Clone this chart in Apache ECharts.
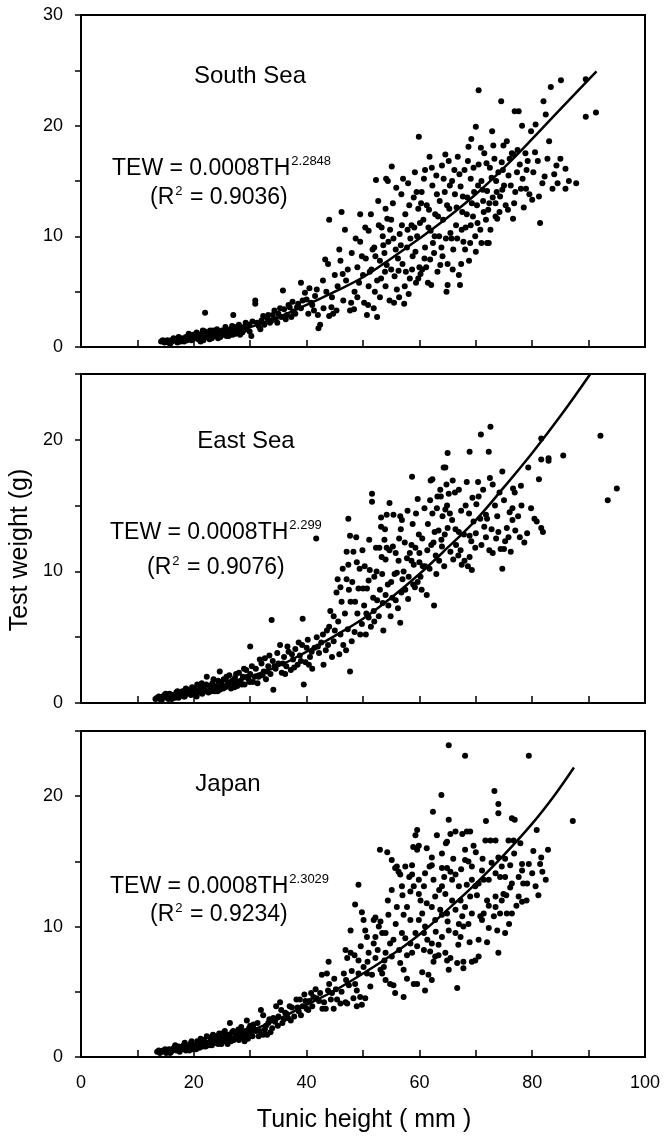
<!DOCTYPE html>
<html><head><meta charset="utf-8">
<script src="https://cdn.jsdelivr.net/npm/echarts@6/dist/echarts.min.js"></script>
<style>html,body{margin:0;padding:0;background:#fff}#c{width:664px;height:1137px}</style>
</head><body><div id="c"></div>
<script>
// ---------- DATA ----------
const panelNames = ['South Sea', 'East Sea', 'Japan'];
const equationExponents = ['2.2848', '2.299', '2.3029'];
const r2Values = ['0.9036', '0.9076', '0.9234'];
const xTicks = [0, 20, 40, 60, 80, 100];
const panelYMax = [30, 25, 25];

const southPoints = [
[14.2,0.5],[14.8,0.4],[15.3,0.6],[15.8,0.3],[16.0,0.6],[16.2,0.5],[16.7,0.7],[17.1,0.4],[17.5,0.6],[17.9,0.8],[18.0,0.6],[18.3,0.5],[18.6,0.9],[19.0,0.7],[19.3,1.0],[19.6,0.6],[19.9,1.1],[20.0,0.9],[20.2,0.8],[20.5,1.3],[20.8,0.7],[21.0,0.8],[21.1,1.0],[21.4,1.2],[21.7,0.6],[22.0,1.4],[22.0,3.1],[22.3,0.9],[22.6,1.1],[22.9,1.5],[23.0,1.0],[23.2,0.8],[23.5,1.2],[23.8,1.0],[24.1,1.6],[24.4,1.3],[24.5,1.1],[24.7,0.9],[25.0,1.5],[25.3,1.1],[25.6,1.8],[25.9,1.3],[26.0,1.5],[26.2,1.0],[26.5,1.6],[26.8,1.9],[27.0,2.9],[27.1,1.4],[27.4,1.2],[27.7,1.7],[28.0,2.0],[28.3,1.5],[28.5,1.7],[28.6,1.3],[28.9,1.8],[29.2,2.2],[29.5,1.6],[29.8,2.0],[30.2,1.0],
[14.5,0.6],[15.0,0.5],[15.5,0.4],[16.4,0.8],[17.3,0.9],[17.7,0.5],[18.8,0.6],[19.1,1.2],[19.7,0.9],[20.4,1.0],[21.2,0.5],[21.6,1.5],[22.4,1.2],[22.8,0.7],[23.4,1.5],[23.9,1.4],[24.3,0.8],[24.9,1.2],[25.4,1.4],[25.8,1.0],[26.4,1.3],[26.9,1.1],[27.3,1.8],[27.8,1.4],[28.2,1.1],[28.8,1.5],[29.4,1.9],[29.9,1.4],[30.4,2.3],[31.2,2.2],[31.8,1.6],[32.3,2.8],[33.2,2.9],[33.8,2.4],[34.3,3.3],[34.8,2.2],[35.3,3.5],[36.3,2.5],[36.8,3.8],[37.3,2.7],[38.3,3.6],[39.3,4.2],[40.8,4.0],[41.3,3.3],[41.8,5.2],
[30.9,4.2],[30.9,3.9],[31.5,1.9],[32.0,2.4],[32.5,2.0],[33.0,2.6],[33.5,2.2],[34.0,2.9],[34.5,2.5],[35.0,3.0],[35.8,5.1],[35.5,2.7],[36.0,3.4],[36.5,2.9],[37.0,3.6],[37.6,3.2],[37.5,4.1],[38.0,3.0],[38.5,3.9],[39.0,5.8],[39.0,3.5],[39.7,4.9],[40.0,4.3],[40.5,5.3],[40.3,3.0],[41.0,3.8],[41.5,4.6],[42.0,2.9],[42.1,1.7],[42.4,2.0],[42.9,6.0],[43.0,3.5],[43.3,7.9],[43.5,5.0],[43.8,7.5],[44.0,11.5],[44.0,2.8],[44.4,3.6],[44.7,3.0],[44.5,4.5],[45.3,3.3],[45.0,6.5],[45.5,5.5],
[46.2,12.2],[46.8,10.6],[49.5,12.0],[46.0,7.8],[46.5,4.2],[47.0,6.0],[47.7,3.3],[48.4,3.4],[48.0,8.5],[48.5,5.0],[49.0,7.2],[49.0,4.5],[49.5,9.5],[50.0,6.5],[50.7,2.9],[50.5,8.0],[51.0,5.5],[51.0,10.5],[51.5,7.0],[51.9,3.5],[52.0,9.0],[52.3,15.1],[52.5,2.7],[52.5,6.0],[52.8,11.0],[53.0,7.8],[53.0,4.5],[53.5,10.0],[53.8,8.5],[54.0,12.5],[54.1,15.2],[54.4,15.0],[54.0,5.5],[54.5,9.5],[55.0,7.0],[55.1,16.3],[55.0,11.5],[55.3,13.0],[55.5,4.0],[55.8,8.8],
[50.2,4.0],[51.2,6.8],[52.2,8.2],[53.2,6.2],[53.6,9.2],[54.2,7.4],[54.8,10.6],[55.6,6.4],[56.2,8.0],[56.9,11.0],[57.6,6.8],[58.4,9.8],[59.3,8.6],[60.1,11.2],[60.9,8.0],[61.6,10.8],[62.4,9.4],[63.3,11.8],[64.1,8.2],[64.9,12.8],[65.7,9.8],[66.6,12.6],[67.5,10.6],[68.4,12.0],[69.3,13.0],[70.3,11.2],[71.2,14.2],[72.4,13.0],[73.6,15.0],[74.7,14.2],
[45.8,8.8],[46.4,6.6],[47.3,7.0],[47.9,4.0],[48.7,9.8],[49.3,5.8],[49.8,8.2],[50.4,10.8],[50.9,3.8],[51.4,12.0],[51.7,8.8],[52.1,5.0],[52.7,13.2],[53.3,10.8],[53.9,6.8],[54.3,11.6],[54.7,4.2],[55.4,9.8],[55.9,14.4],[56.3,6.9],[56.7,9.2],[57.1,15.2],[57.4,5.5],[57.9,10.6],[58.2,12.8],[58.7,7.0],[59.1,10.8],[59.5,14.0],[59.8,6.2],[60.3,13.0],[60.8,15.2],[61.2,7.2],[61.7,12.4],[62.2,16.2],[62.7,10.0],[63.1,13.8],[63.7,7.4],[64.3,15.2],[64.7,9.8],[65.4,14.6],[65.9,7.0],[66.2,16.0],[66.7,9.8],[67.1,15.6],[67.7,13.6],[68.1,8.8],[68.6,16.8],[69.1,11.0],[69.6,16.2],[69.9,10.0],[70.4,14.6],[70.9,18.0],[71.4,12.2],[71.9,16.6],[72.6,10.6],[73.1,18.2],[73.7,14.0],[74.2,12.2],[74.8,16.0],[75.5,18.6],[76.2,14.6],[76.8,13.0],[77.4,17.8],[78.5,12.6],[79.0,16.0],[80.5,17.6],[81.2,13.6],[82.2,15.4],[83.0,18.6],[84.5,14.8],
[56.0,5.2],[56.4,4.5],[56.5,10.2],[56.8,13.8],[57.0,7.5],[57.3,3.9],[57.5,12.0],[57.8,9.0],[58.0,14.8],[58.1,4.8],[58.3,6.2],[58.6,11.0],[58.8,8.2],[59.0,13.5],[59.2,15.8],[59.4,5.8],[59.6,10.0],[59.9,19.0],[59.8,12.5],[60.0,7.2],
[60.2,6.6],[60.5,7.0],[60.4,14.0],[60.7,11.5],[61.0,9.0],[61.0,16.0],[61.3,12.8],[61.5,5.8],[61.8,17.2],[61.9,7.9],[62.1,5.6],[62.0,10.5],[62.3,14.6],[62.6,8.5],[62.8,12.0],[63.0,15.5],[63.2,6.8],[63.5,10.0],[63.6,13.2],[63.9,9.0],[64.0,16.4],[64.2,11.5],[64.6,17.4],[64.8,5.0],[64.5,14.0],[65.0,5.6],[65.0,7.5],[65.2,16.8],[65.3,12.5],[65.5,10.3],
[65.8,15.0],[66.0,8.8],[66.3,13.8],[66.5,11.0],[66.8,17.2],[67.0,6.5],[67.2,5.6],[67.4,7.5],[67.3,14.5],[67.6,12.2],[67.8,9.5],[68.0,16.0],[68.2,10.8],[68.5,13.5],[68.7,18.1],[68.8,7.8],[69.0,9.4],[69.2,18.8],[69.1,15.2],[69.5,11.8],[69.7,14.0],[70.0,19.9],[70.0,8.6],[70.2,12.8],[70.5,23.2],[70.5,16.5],
[70.8,10.6],[71.0,9.4],[71.0,15.0],[71.3,13.2],[71.5,17.5],[71.8,11.5],[72.0,14.1],[72.0,9.4],[72.2,12.4],[72.3,9.4],[72.5,16.2],[72.8,15.3],[72.9,19.5],[73.0,13.5],[73.3,17.0],[73.5,11.8],[73.5,13.0],[73.8,11.6],[74.0,15.8],[74.3,13.6],[74.5,22.2],[74.6,16.7],[74.9,18.2],[75.0,14.6],
[75.3,12.8],[75.7,12.4],[75.8,15.5],[76.0,17.0],[76.4,17.5],[76.6,11.6],[76.7,17.4],[76.9,21.3],[77.0,14.0],[77.3,15.8],[77.6,21.3],[77.8,16.5],[78.0,14.3],[78.2,20.0],[78.3,15.2],[78.8,17.5],[78.9,14.3],[79.2,16.8],[79.5,13.8],[79.8,19.5],[80.0,13.3],[80.2,15.8],
[80.6,20.1],[81.0,16.8],[81.4,11.2],[81.8,14.8],[82.0,22.2],[82.4,21.0],[82.7,17.0],[83.3,23.5],[83.6,14.3],[83.9,15.6],[84.3,16.4],[85.0,17.0],[85.1,24.1],[85.9,16.1],[85.9,14.3],[86.5,15.0],[87.8,14.8],[89.5,24.2],[89.5,20.8],[91.3,21.2]
];
const southCurve = [[14,0.5],[20,0.8],[25,1.2],[30,1.8],[35,2.7],[40,3.8],[45,5.0],[50,6.3],[55,8.0],[60,9.8],[65,11.7],[70,13.8],[75,16.2],[80,18.8],[85,21.5],[91.4,24.9]];

const eastPoints = [
[13.2,0.3],[13.8,0.5],[14.3,0.2],[14.8,0.6],[15.2,0.4],[15.7,0.7],[16.1,0.3],[16.5,0.5],[16.9,0.8],[17.3,0.4],[17.7,0.6],[18.0,0.9],[18.4,0.5],[18.8,0.7],[19.1,1.0],[19.5,0.6],[19.8,0.8],[20.2,1.1],[20.5,0.5],[20.8,0.9],[21.2,1.2],[21.5,0.7],[21.9,1.0],[22.3,2.0],[22.2,1.4],[22.6,0.8],[23.0,1.1],[23.3,1.5],[23.7,0.9],[24.0,1.3],[24.3,1.7],[24.6,2.4],[24.6,1.0],[25.0,1.4],[25.3,1.8],[25.6,1.2],[26.0,1.6],[26.3,2.1],[26.6,1.1],[27.0,1.5],[27.3,1.9],[27.7,1.3],[28.0,2.3],[28.3,1.7],[28.7,2.0],[29.0,1.4],[29.3,2.5],[29.7,1.8],[30.0,4.3],[30.0,2.2],
[13.5,0.4],[14.0,0.3],[14.5,0.5],[15.0,0.7],[15.5,0.3],[16.3,0.6],[16.7,0.4],[17.1,0.9],[17.5,0.7],[18.2,0.5],[18.6,1.1],[19.3,0.8],[19.7,1.2],[20.0,0.7],[20.6,1.4],[21.0,0.8],[21.4,1.5],[21.7,1.1],[22.0,0.9],[22.8,1.3],[23.1,0.9],[23.5,1.8],[23.9,1.2],[24.2,0.9],[24.8,1.6],[25.2,1.1],[25.8,2.0],[26.2,1.4],[26.8,1.7],[27.2,1.2],[27.5,2.2],[27.9,1.6],[28.5,1.4],[28.9,2.6],[29.5,2.0],[29.9,1.6],[30.3,2.8],[30.8,2.0],[31.3,1.5],[31.7,3.3],[32.2,2.1],[32.6,3.4],[33.0,2.4],[33.4,3.6],[34.3,2.8],[34.8,3.8],[35.8,3.0],[36.2,2.2],[36.6,4.3],[37.4,3.7],[37.8,2.7],[38.6,4.6],[39.0,3.2],[40.0,4.2],[40.4,2.9],[40.9,3.9],[42.0,4.3],[42.9,5.2],[43.8,4.4],
[30.5,1.6],[31.0,2.6],[31.5,2.0],[32.0,3.0],[32.4,2.4],[32.8,1.8],[33.2,2.8],[33.8,6.3],[33.6,2.2],[34.1,1.0],[34.0,3.2],[34.5,2.6],[35.0,3.0],[35.3,4.4],[35.6,2.3],[36.0,3.5],[36.4,2.8],[36.8,3.9],[37.2,2.5],[37.6,3.3],[38.0,4.1],[38.4,2.9],[38.8,3.6],[39.3,6.4],[39.2,4.4],[39.5,1.4],[39.8,3.1],[40.2,4.8],[40.6,3.5],[41.0,2.6],[41.4,4.2],[41.7,12.5],[41.8,5.0],[42.2,3.8],[42.6,4.6],[43.0,2.9],[43.6,5.5],[43.4,4.0],[44.2,7.0],[44.0,5.8],[44.5,3.5],[44.8,4.7],
[44.8,6.6],[45.0,5.5],[45.3,8.4],[45.5,9.4],[45.8,3.7],[46.0,8.8],[46.0,5.2],[46.2,7.7],[46.5,4.4],[47.0,4.0],[47.1,9.4],[47.1,11.5],[47.4,14.0],[47.4,10.5],[47.5,8.6],[47.7,12.7],[47.7,2.4],[47.8,7.7],[48.0,4.7],[48.3,11.5],[48.5,5.4],[48.9,10.7],[48.6,7.7],[49.2,8.7],[49.4,10.2],[49.8,6.0],[50.0,8.7],[50.3,10.4],[50.5,5.2],[50.7,8.7],[51.0,6.5],[51.2,10.1],[51.6,15.9],[51.6,15.3],[51.4,5.8],[51.8,8.0],[52.0,6.2],[52.3,11.8],[52.5,7.8],[52.9,11.8],[53.2,14.1],[53.2,13.4],[53.3,11.1],[53.5,7.6],[53.8,12.4],[53.6,5.5],[54.0,10.9],[54.2,14.3],[54.2,11.8],[54.7,15.2],[54.5,7.4],[54.7,11.6],[55.0,9.2],[55.4,14.3],[55.6,9.8],
[49.0,6.8],[50.2,7.4],[51.0,9.3],[52.0,9.6],[53.0,8.6],[54.0,8.2],[55.2,8.0],[56.0,9.9],[57.0,9.4],[58.0,7.9],[59.0,10.5],[60.2,9.6],[61.8,10.2],[63.0,9.8],[64.0,11.9],[66.0,10.9],[67.3,11.6],[70.0,12.9],[71.5,13.4],[73.8,14.2],[75.0,15.4],[77.0,13.1],[78.0,16.5],
[45.6,6.2],[46.4,10.2],[46.8,6.8],[47.3,5.6],[48.1,9.2],[48.8,12.6],[49.5,5.2],[49.9,11.6],[50.6,6.8],[51.1,12.4],[51.9,7.0],[52.4,10.0],[52.8,6.6],[53.4,9.8],[53.9,13.2],[54.4,9.0],[54.9,6.6],[55.3,11.9],[55.8,7.8],[56.3,10.8],[56.8,8.4],[57.4,12.2],[57.9,14.6],[58.3,11.4],[58.8,13.6],[59.4,14.4],[59.9,12.8],[60.4,8.6],[60.9,14.8],[61.4,11.6],[61.9,15.4],[62.7,13.0],[63.1,14.8],[63.9,12.4],[64.4,10.4],[64.8,16.6],[65.4,14.4],[65.9,16.9],[66.4,13.2],[66.9,11.2],[67.4,14.6],[67.9,12.8],[68.4,16.8],[69.4,15.6],[69.9,11.8],[70.4,16.8],[70.8,14.0],[71.3,16.2],[71.8,12.6],[72.8,13.2],[73.4,15.0],[74.0,13.0],[74.2,16.0],[75.8,12.6],[76.0,14.5],[77.8,12.6],[79.8,14.8],[80.8,13.8],
[55.8,11.4],[56.2,7.2],[56.4,12.5],[56.6,14.2],[56.6,6.1],[56.7,13.2],[56.9,13.9],[57.2,10.0],[57.5,8.6],[57.8,11.0],[58.1,9.6],[58.6,12.0],[58.6,10.8],[58.7,17.2],[58.9,9.0],[59.2,8.8],[59.3,11.8],[59.7,15.5],[59.7,9.2],[60.0,11.4],[60.0,10.7],[60.5,12.5],[60.6,10.4],[61.0,10.4],[61.3,8.2],[61.5,13.6],[62.0,16.9],[62.1,12.0],[62.3,17.0],[62.3,14.4],[62.5,12.2],[62.6,7.4],[62.9,11.2],[63.2,15.7],[63.4,13.1],[63.7,16.2],[63.8,15.7],[63.5,10.8],[64.1,14.2],[64.3,17.9],[64.6,14.7],[64.6,17.9],[64.5,12.8],[64.9,15.0],[65.0,19.0],[65.2,15.9],[65.0,13.3],
[65.5,11.5],[65.8,13.9],[66.3,16.0],[66.5,12.0],[67.0,16.2],[67.0,13.0],[67.5,10.5],[68.0,10.8],[68.2,15.0],[68.6,10.4],[68.8,14.4],[68.9,11.1],[68.9,12.7],[68.9,19.1],[69.2,12.3],[69.3,10.1],[69.6,13.8],[70.1,15.1],[70.5,15.7],[70.9,20.4],[71.0,12.0],[71.8,14.3],[72.0,14.0],[72.3,19.1],[72.4,11.6],[72.5,17.1],[72.6,21.0],[73.0,16.6],[73.0,11.4],[73.6,12.5],[74.4,11.7],[74.7,10.2],[74.7,17.6],[75.0,11.7],[75.2,12.3],[75.5,13.3],
[76.2,11.5],[76.5,14.8],[76.5,13.9],[76.6,16.3],[76.9,16.0],[77.5,14.2],[78.1,15.0],[78.6,12.2],[79.1,12.9],[79.3,17.9],[80.4,14.0],[81.2,17.0],[81.6,20.1],[81.6,18.5],[81.6,13.3],[81.9,13.0],[82.9,18.4],[82.9,18.6],[85.5,18.8],[92.1,20.3],[93.4,15.4],[95.0,16.3]
];
const eastCurve = [[13,0.3],[20,0.8],[25,1.3],[30,2.0],[35,2.8],[40,3.9],[45,5.1],[50,6.4],[55,8.0],[60,9.8],[65,11.8],[70,13.9],[75,16.4],[80,19.0],[85,21.8],[90.3,25.0]];

const japanPoints = [
[13.5,0.4],[14.0,0.3],[14.6,0.5],[15.1,0.3],[15.6,0.6],[16.0,0.4],[16.5,0.7],[16.9,0.5],[17.3,0.8],[17.8,0.6],[18.2,0.9],[18.6,0.5],[19.0,0.8],[19.4,1.0],[19.8,0.6],[20.2,0.9],[20.6,1.2],[21.0,0.7],[21.4,1.0],[21.8,1.3],[22.1,0.8],[22.5,1.1],[22.9,1.5],[23.2,0.9],[23.6,1.3],[24.0,1.6],[24.3,1.0],[24.7,1.4],[25.0,1.8],[25.3,1.2],[25.7,1.6],[26.0,1.0],[26.4,2.6],[26.4,1.5],[26.8,1.9],[27.1,1.3],[27.5,1.7],[27.9,2.1],[28.2,1.5],[28.6,1.9],[29.0,1.2],[29.4,2.8],[29.4,1.7],[29.8,2.2],
[13.8,0.5],[14.3,0.4],[14.9,0.6],[15.3,0.5],[15.8,0.3],[16.2,0.6],[16.7,0.9],[17.1,0.6],[17.5,0.4],[18.0,0.8],[18.4,1.1],[18.8,0.7],[19.2,0.5],[19.6,1.2],[20.0,0.8],[20.4,0.6],[20.8,1.0],[21.2,1.4],[21.6,0.8],[22.0,1.1],[22.3,1.6],[22.7,0.9],[23.1,1.2],[23.4,1.7],[23.8,1.1],[24.2,1.3],[24.5,1.8],[24.9,1.0],[25.2,1.5],[25.5,2.0],[25.9,1.3],[26.2,1.7],[26.6,1.2],[27.0,2.0],[27.3,1.5],[27.7,1.9],[28.0,1.3],[28.4,2.3],[28.8,1.6],[29.2,2.0],[29.6,1.4],[30.0,2.4],[30.4,1.6],[30.8,2.1],[31.3,2.6],[31.7,2.0],[32.6,2.1],[33.2,2.6],[33.6,1.9],[34.1,3.0],[34.9,2.4],[35.5,3.6],[36.0,2.9],[36.5,3.3],[37.0,3.9],[37.8,3.1],[38.4,3.8],[39.0,3.2],[39.6,4.8],[40.0,3.7],[40.5,4.3],[41.0,3.9],[41.8,4.5],[42.4,4.9],[43.1,4.2],[43.8,5.1],[44.3,4.4],
[30.2,1.8],[30.6,2.5],[31.0,2.0],[31.5,1.6],[31.9,3.6],[32.3,3.2],[32.3,1.7],[33.0,1.7],[32.8,2.4],[33.4,2.9],[33.9,2.2],[34.6,3.9],[34.4,2.7],[35.3,4.2],[35.0,3.1],[35.7,2.6],[36.2,3.4],[36.7,3.0],[37.2,2.8],[37.4,3.8],[38.2,4.4],[38.8,4.4],[38.6,3.5],[39.3,3.9],[39.8,4.3],[40.3,3.6],[40.8,4.9],[41.2,4.6],[41.6,5.2],[42.2,4.3],[42.7,6.3],[42.8,3.7],[43.4,3.7],[43.6,6.4],[43.9,7.3],[44.0,5.6],[44.5,4.9],[44.9,6.0],
[49.5,4.6],[48.3,4.5],[47.2,4.1],[46.9,4.2],[46.0,4.1],[45.4,4.4],[44.8,3.7],[48.9,3.9],[49.8,4.0],[50.4,4.5],[47.5,5.5],[46.6,6.4],
[51.6,6.3],[50.7,6.4],[49.2,6.4],[48.6,5.6],[48.9,5.1],[52.2,7.6],[51.0,8.0],[49.2,7.4],[50.1,6.9],[47.8,8.0],[46.9,8.2],[47.2,7.6],
[53.4,6.4],[53.7,6.9],[53.1,6.7],[54.0,5.9],[54.8,5.6],[55.4,5.5],[55.7,4.9],[57.2,4.6],[59.0,5.6],[59.6,5.6],[62.2,5.9],[61.0,5.1],[65.2,6.7],[66.7,5.3],
[52.2,9.2],[51.9,8.7],[50.7,9.2],[50.4,9.7],[47.8,9.7],[52.8,10.0],[53.4,9.5],[49.8,11.1],[50.1,10.5],[51.9,10.5],[52.2,10.7],[53.1,10.4],[48.6,11.7],[49.2,13.2],[53.0,15.9],[54.3,15.7],
[45.2,5.2],[46.2,5.0],[47.0,5.9],[48.0,6.6],[48.5,7.8],[49.6,8.5],[50.8,7.3],[51.3,5.4],[52.6,8.2],[53.8,7.4],[54.4,12.0],[55.8,10.2],[56.4,8.2],[57.0,12.4],[57.8,7.8],[58.2,13.8],[60.2,12.0],[61.4,9.0],[61.8,14.6],[62.9,9.6],[63.5,12.8],[64.4,13.8],[65.0,10.4],[66.0,15.2],[66.9,8.6],[67.4,14.4],[68.4,13.2],[68.9,8.8],[69.6,16.2],[70.2,12.4],[70.8,10.8],[71.2,15.2],[72.0,8.8],[72.8,14.9],[73.2,10.8],[74.6,14.6],[75.4,12.4],[75.9,10.2],[76.8,15.6],[77.2,11.6],[77.9,16.4],[79.0,12.0],[80.2,15.8],[81.8,14.2],[82.4,13.6],
[56.9,9.5],[57.5,9.1],[55.4,9.0],[54.8,8.7],[54.0,9.5],[55.1,12.8],[56.9,13.1],[58.4,12.7],[57.8,11.5],[55.1,15.1],[56.0,14.6],[56.3,14.2],[56.6,14.0],[58.7,14.7],[58.7,14.0],[59.9,13.6],[59.0,13.1],[60.8,13.1],[59.6,17.4],[59.3,17.0],[58.9,16.1],[59.9,16.2],[61.3,16.0],
[60.5,11.0],[59.9,10.5],[61.0,10.0],[59.3,9.5],[60.8,9.5],[58.4,8.7],[58.7,8.0],[59.6,8.5],[60.8,8.2],[61.9,8.1],[62.2,8.7],[63.4,8.6],
[62.8,7.7],[62.5,7.3],[63.4,7.8],[64.6,8.0],[64.9,7.4],[65.5,7.6],[66.7,7.2],[67.8,6.8],[67.8,7.3],[69.3,7.3],[69.9,7.4],[70.5,7.7],
[62.5,13.6],[64.0,13.1],[64.6,12.5],[62.8,12.3],[62.2,11.5],[61.3,11.8],[65.8,12.0],[64.9,11.0],[66.4,11.3],[67.3,12.0],[67.6,10.8],[67.0,10.2],[63.7,11.3],[64.0,10.9],[62.8,10.5],
[64.0,15.6],[62.2,15.3],[62.2,14.7],[64.0,14.5],[64.9,14.5],[65.5,14.2],[66.4,14.0],[63.1,17.0],[64.9,16.5],[64.7,16.4],[65.5,17.1],[66.4,17.3],[67.6,17.1],[68.4,17.3],[69.0,17.3],
[68.1,15.9],[68.1,15.1],[68.7,15.0],[69.3,14.6],[70.0,15.7],[71.7,16.6],[72.6,16.6],[73.5,16.6],[71.1,14.3],[71.4,13.6],[72.3,13.6],[73.5,14.1],[74.3,13.8],[75.2,13.8],[76.1,13.0],[76.4,13.3],
[72.0,12.0],[72.3,11.6],[73.5,12.3],[73.5,11.5],[74.6,12.0],[74.3,11.0],[75.5,11.0],[76.4,11.0],[72.3,9.9],[73.8,9.7],[74.0,8.0],[75.2,9.5],
[69.9,13.1],[69.0,12.3],[68.1,11.5],[69.3,11.0],[68.7,10.2],[67.8,10.0],[67.3,9.2],
[65.2,23.9],[68.1,23.1],[79.4,23.1],[87.2,18.1],[63.9,20.1],[73.3,20.4],[74.0,19.4],[74.0,18.7],[62.4,18.8],[65.2,18.2],[71.8,18.1],[76.4,18.3],[76.9,18.2],[80.8,17.4],[82.8,15.9],[81.6,15.3],[81.4,14.8],[81.1,12.4],[78.4,13.3],[79.1,13.3],[78.2,14.8],[79.4,14.8],[78.2,14.3],[78.2,11.9],
[59.6,15.9],[55.7,14.5],[54.5,10.9],[56.0,11.5],[57.2,10.9],[58.4,10.5],[54.0,8.0],[55.1,7.7],[56.6,7.2],[57.2,6.7],[57.8,6.0],[60.5,6.5],[61.6,6.3],[64.0,9.2],[65.2,9.7],[66.4,9.5],[70.5,9.0],[71.1,10.5],[71.4,11.0],[69.3,13.6],[70.5,13.3],[65.8,13.6],[67.0,13.1],[61.0,14.1],[59.9,12.5],[57.5,14.6],[74.0,15.3],[75.2,15.2],[75.8,16.6],[76.7,16.6],[74.9,12.5],[77.6,12.3],[76.1,14.7],[77.6,13.8],[80.0,14.1],[80.6,13.1]
];
const japanCurve = [[13.5,0.3],[20,0.75],[25,1.3],[30,2.0],[35,2.9],[40,4.0],[45,5.1],[50,6.4],[55,7.8],[60,9.4],[65,11.3],[70,13.3],[75,15.5],[80,17.9],[84,20.1],[87.4,22.2]];

// ---------- CHART ----------
const FONT = '"Liberation Sans", Arial, Helvetica, sans-serif';
const grids = [
  {left: 81, top: 15, width: 564, height: 332},
  {left: 81, top: 374, width: 564, height: 329},
  {left: 81, top: 731, width: 564, height: 326}
];
const ctx = document.createElement('canvas').getContext('2d');
function tw(s, size) { ctx.font = size + 'px ' + FONT; return ctx.measureText(s).width; }

function txt(x, y, s, size, align, extra) {
  return Object.assign({type: 'text', x: x, y: y, silent: true,
    style: {text: s, font: size + 'px ' + FONT, fill: '#000', align: align || 'left', verticalAlign: 'middle'}}, extra || {});
}
const BASE = 23, SUP = 13;
function equation(x1, y1, exp, x2, y2, r2) {
  const out = [];
  const b = 'TEW = 0.0008TH';
  out.push(txt(x1, y1, b, BASE));
  out.push(txt(x1 + tw(b, BASE) + 1, y1 - 8, exp, SUP));
  out.push(txt(x2, y2, '(R', BASE));
  const w1 = tw('(R', BASE);
  out.push(txt(x2 + w1 + 1, y2 - 7, '2', SUP));
  out.push(txt(x2 + w1 + 1 + tw('2', SUP) + 1, y2, ' = ' + r2 + ')', BASE));
  return out;
}

const graphics = [
  txt(250, 76, panelNames[0], 24, 'center'),
  txt(246, 441, panelNames[1], 24, 'center'),
  txt(228, 784, panelNames[2], 24, 'center'),
  ...equation(112, 169, equationExponents[0], 150, 198, r2Values[0]),
  ...equation(110, 533, equationExponents[1], 147, 568, r2Values[1]),
  ...equation(110, 887, equationExponents[2], 150, 915, r2Values[2]),
  txt(20, 550, 'Test weight (g)', 25, 'center', {rotation: Math.PI / 2}),
  txt(364, 1120, 'Tunic height ( mm )', 25, 'center')
];

const xAxes = grids.map((g, i) => ({
  type: 'value', gridIndex: i, min: 0, max: 100, interval: 10,
  axisLine: {show: true, lineStyle: {color: '#000', width: 2}},
  axisTick: {show: true, inside: true, length: 7, lineStyle: {color: '#000', width: 1.5}},
  axisLabel: {show: i === 2, margin: 17, color: '#000', fontSize: 18, fontFamily: FONT,
    formatter: v => (xTicks.indexOf(v) >= 0 ? String(v) : '')},
  splitLine: {show: false}
}));
const yAxes = grids.map((g, i) => ({
  type: 'value', gridIndex: i, min: 0, max: panelYMax[i], interval: 5,
  axisLine: {show: true, lineStyle: {color: '#000', width: 2}},
  axisTick: {show: true, inside: false, length: 6, lineStyle: {color: '#000', width: 1.5}},
  axisLabel: {show: true, margin: 18, color: '#000', fontSize: 18, fontFamily: FONT,
    formatter: v => (v % 10 === 0 ? String(v) : '')},
  splitLine: {show: false}
}));

const pts = [southPoints, eastPoints, japanPoints];
const curves = [southCurve, eastCurve, japanCurve];
const series = [];
for (let i = 0; i < 3; i++) {
  series.push({type: 'scatter', xAxisIndex: i, yAxisIndex: i, data: pts[i], symbol: 'circle', symbolSize: 6,
    itemStyle: {color: '#000', opacity: 1}, silent: true, animation: false, large: false});
  series.push({type: 'line', xAxisIndex: i, yAxisIndex: i, data: curves[i], smooth: 0.4, showSymbol: false,
    lineStyle: {color: '#000', width: 2.5}, silent: true, animation: false, z: 3});
}

const chart = echarts.init(document.getElementById('c'), null, {renderer: 'canvas'});
chart.setOption({
  backgroundColor: '#fff',
  animation: false,
  grid: grids.map(g => Object.assign({show: true, borderColor: '#000', borderWidth: 2, backgroundColor: 'transparent'}, g)),
  xAxis: xAxes,
  yAxis: yAxes,
  series: series,
  graphic: graphics
});
</script>
</body></html>
